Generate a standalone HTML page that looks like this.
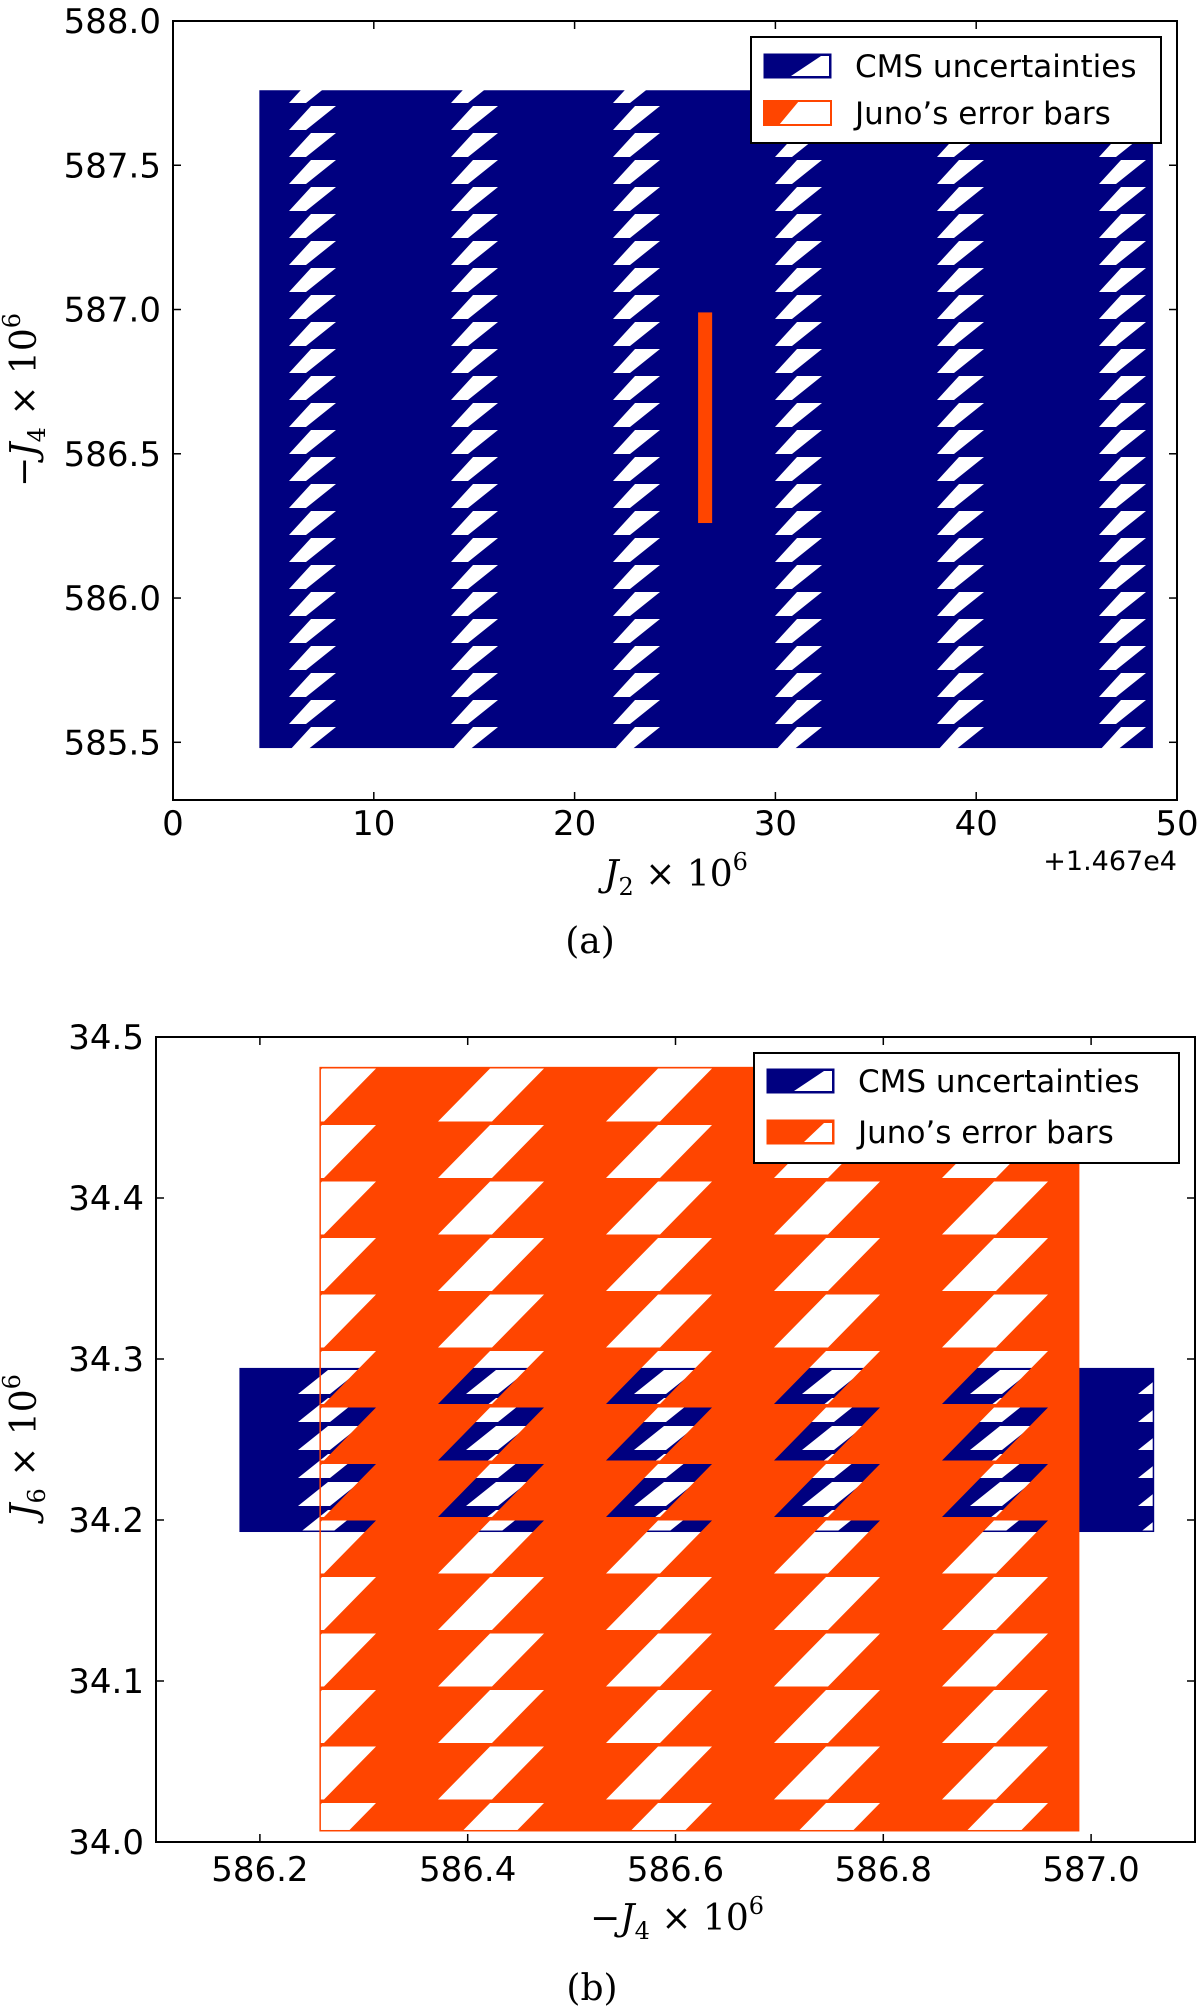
<!DOCTYPE html>
<html><head><meta charset="utf-8"><style>
body{margin:0;background:#fff}
svg{display:block;font-family:"DejaVu Sans","Liberation Sans",sans-serif}
.serif{font-family:"DejaVu Serif","Liberation Serif",serif}
</style></head><body>
<svg id="chart" width="1200" height="2008" viewBox="0 0 1200 2008" xmlns="http://www.w3.org/2000/svg">
<defs>
<pattern id="hatchBlueA" patternUnits="userSpaceOnUse" x="289" y="105" width="162" height="27">
<path d="M0 0H162V27H0Z M22 1 L47 1 L17 25 L0 25 Z" fill="#000080" fill-rule="evenodd"/>
</pattern>
<pattern id="hatchBlueB" patternUnits="userSpaceOnUse" x="298" y="1368" width="168" height="28">
<path d="M0 0H168V28H0Z M30 2 L62 2 L32 26 L0 26 Z" fill="#000080" fill-rule="evenodd"/>
</pattern>
<pattern id="hatchOrange" patternUnits="userSpaceOnUse" x="438" y="1123" width="168" height="56.5">
<path d="M0 0H168V56.5H0Z M52 2 L106 2 L54 55 L0 55 Z" fill="#ff4500" fill-rule="evenodd"/>
</pattern>
</defs>
<g id="panelA"></g>
<g id="panelB"></g>
</svg>
<script>
// Panel (a) data
const aXTicks = [0, 10, 20, 30, 40, 50];
const aXTickLabels = ["0", "10", "20", "30", "40", "50"];
const aYTicks = [585.5, 586.0, 586.5, 587.0, 587.5, 588.0];
const aYTickLabels = ["585.5", "586.0", "586.5", "587.0", "587.5", "588.0"];
const aCMS = [4.3, 48.8, 585.48, 587.76];
const aJuno = [26.15, 26.85, 586.26, 586.99];
// Panel (b) data
const bXTicks = [586.2, 586.4, 586.6, 586.8, 587.0];
const bXTickLabels = ["586.2", "586.4", "586.6", "586.8", "587.0"];
const bYTicks = [34.0, 34.1, 34.2, 34.3, 34.4, 34.5];
const bYTickLabels = ["34.0", "34.1", "34.2", "34.3", "34.4", "34.5"];
const bCMS = [586.181, 587.06, 34.193, 34.294];
const bJuno = [586.258, 586.988, 34.007, 34.481];

const NS = "http://www.w3.org/2000/svg";
function mk(parent, tag, attrs, text) {
  const e = document.createElementNS(NS, tag);
  for (const k in attrs) e.setAttribute(k, attrs[k]);
  if (text !== undefined) e.textContent = text;
  parent.appendChild(e);
  return e;
}
function scale(d0, d1, r0, r1) { return v => r0 + (v - d0) / (d1 - d0) * (r1 - r0); }

function axesFrame(g, L, R, T, B, xs, ys, xt, xtl, yt, ytl, xlabY) {
  const frame = mk(g, "rect", {x: L, y: T, width: R - L, height: B - T, fill: "none", stroke: "#000", "stroke-width": 2});
  
  
  xt.forEach((v, i) => {
    const x = xs(v);
    mk(g, "line", {x1: x, x2: x, y1: B, y2: B - 8, stroke: "#000", "stroke-width": 1.5});
    mk(g, "line", {x1: x, x2: x, y1: T, y2: T + 8, stroke: "#000", "stroke-width": 1.5});
    const t = mk(g, "text", {x: x, y: xlabY, "font-size": 34, "text-anchor": "middle"}, xtl[i]);
    
    
  });
  yt.forEach((v, i) => {
    const y = ys(v);
    mk(g, "line", {x1: L, x2: L + 8, y1: y, y2: y, stroke: "#000", "stroke-width": 1.5});
    mk(g, "line", {x1: R, x2: R - 8, y1: y, y2: y, stroke: "#000", "stroke-width": 1.5});
    const t = mk(g, "text", {x: L - 12, y: y + 12, "font-size": 34, "text-anchor": "end"}, ytl[i]);
    
    
  });
}

function legend(g, x, y, w, h, p1y, p2y, legendType) {
  const box = mk(g, "rect", {x: x, y: y, width: w, height: h, fill: "#fff", stroke: "#000", "stroke-width": 2});
  
  
  const px = x + 13, pw = 67, ph = 24;
  const e1 = mk(g, "g", {});
  
  
  mk(e1, "rect", {x: px, y: p1y, width: pw, height: ph, fill: "#000080", stroke: "#000080"});
  mk(e1, "polygon", {points: `${px+pw-10},${p1y+2} ${px+pw-2},${p1y+2} ${px+pw-2},${p1y+ph-2} ${px+pw-40},${p1y+ph-2}`, fill: "#fff"});
  mk(e1, "text", {x: px + 91, y: p1y + 23, "font-size": 31}, "CMS uncertainties");
  const e2 = mk(g, "g", {});
  
  
  if (legendType === "a") {
    mk(e2, "rect", {x: px, y: p2y, width: pw, height: ph, fill: "#fff", stroke: "#ff4500", "stroke-width": 2});
    mk(e2, "polygon", {points: `${px},${p2y} ${px+35},${p2y} ${px+15},${p2y+ph} ${px},${p2y+ph}`, fill: "#ff4500"});
  } else {
    mk(e2, "rect", {x: px, y: p2y, width: pw, height: ph, fill: "#ff4500", stroke: "#ff4500"});
    mk(e2, "polygon", {points: `${px+pw-10},${p2y+3} ${px+pw-2},${p2y+3} ${px+pw-2},${p2y+ph-2} ${px+pw-30},${p2y+ph-2}`, fill: "#fff"});
  }
  mk(e2, "text", {x: px + 91, y: p2y + 23, "font-size": 31}, "Juno\u2019s error bars");
}

function mathTitle(g, x, y, rot, neg, sub, name) {
  const t = mk(g, "text", {x: 0, y: 0, "font-size": 36, "text-anchor": "middle", "class": "serif",
    transform: `translate(${x},${y})` + (rot ? " rotate(-90)" : "")});
  t.innerHTML = (neg ? '−' : '') + '<tspan font-style="italic">J</tspan><tspan font-size="24" dy="9">' + sub +
    '</tspan><tspan dy="-9"> × 10</tspan><tspan font-size="24" dy="-16">6</tspan>';
  
  
}

// Panel A
(function () {
  const g = document.getElementById("panelA");
  const L = 173, R = 1177, T = 21, B = 800;
  const xs = scale(0, 50, L, R), ys = scale(585.3, 588.0, B, T);
  const cms = mk(g, "rect", {x: xs(aCMS[0]), y: ys(aCMS[3]), width: xs(aCMS[1]) - xs(aCMS[0]), height: ys(aCMS[2]) - ys(aCMS[3]), fill: "url(#hatchBlueA)"});
  
  
  const juno = mk(g, "rect", {x: xs(aJuno[0]), y: ys(aJuno[3]), width: xs(aJuno[1]) - xs(aJuno[0]), height: ys(aJuno[2]) - ys(aJuno[3]), fill: "#ff4500"});
  
  
  axesFrame(g, L, R, T, B, xs, ys, aXTicks, aXTickLabels, aYTicks, aYTickLabels, 835);
  legend(g, 751, 37, 410, 106, 54, 101, "a");
  const off = mk(g, "text", {x: 1177, y: 870, "font-size": 27, "text-anchor": "end"}, "+1.467e4");
  
  
  mathTitle(g, 676, 886, false, false, "2", "x-axis-title");
  mathTitle(g, 36, 400, true, true, "4", "y-axis-title");
  const cap = mk(g, "text", {x: 590, y: 953, "font-size": 36, "text-anchor": "middle", "class": "serif"}, "(a)");
  
  
})();

// Panel B
(function () {
  const g = document.getElementById("panelB");
  const L = 156, R = 1195, T = 1037, B = 1842;
  const xs = scale(586.1, 587.1, L, R), ys = scale(34.0, 34.5, B, T);
  const cms = mk(g, "rect", {x: xs(bCMS[0]), y: ys(bCMS[3]), width: xs(bCMS[1]) - xs(bCMS[0]), height: ys(bCMS[2]) - ys(bCMS[3]), fill: "url(#hatchBlueB)", stroke: "#000080", "stroke-width": 1.5});
  
  
  const juno = mk(g, "rect", {x: xs(bJuno[0]), y: ys(bJuno[3]), width: xs(bJuno[1]) - xs(bJuno[0]), height: ys(bJuno[2]) - ys(bJuno[3]), fill: "url(#hatchOrange)", stroke: "#ff4500", "stroke-width": 1.5});
  
  
  axesFrame(g, L, R, T, B, xs, ys, bXTicks, bXTickLabels, bYTicks, bYTickLabels, 1881);
  legend(g, 754, 1053, 425, 110, 1069, 1120, "b");
  mathTitle(g, 677, 1930, false, true, "4", "x-axis-title");
  mathTitle(g, 36, 1446, true, false, "6", "y-axis-title");
  const cap = mk(g, "text", {x: 592, y: 2000, "font-size": 36, "text-anchor": "middle", "class": "serif"}, "(b)");
  
  
})();
</script>
</body></html>
